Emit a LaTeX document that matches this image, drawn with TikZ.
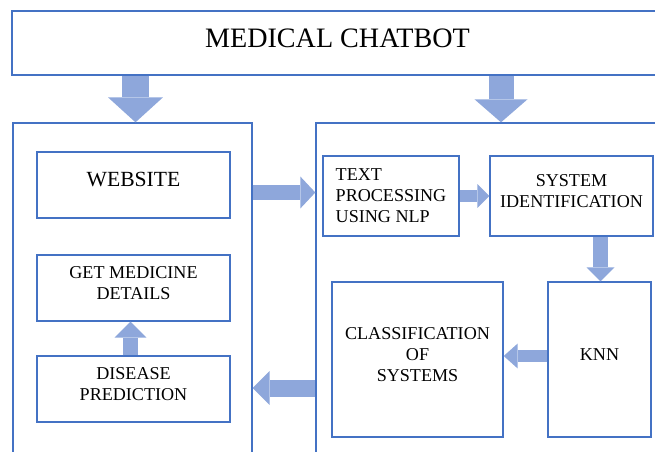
\documentclass[tikz,border=0pt]{standalone}
\usepackage{fontspec}
\setmainfont{Liberation Serif}
\usetikzlibrary{arrows.meta}

\definecolor{boxblue}{RGB}{68,114,196}
\definecolor{arrowblue}{RGB}{142,167,219}

\begin{document}
\begin{tikzpicture}[x=0.02cm, y=-0.02cm,
	box/.style={draw=boxblue, line width=0.8pt, inner sep=0pt, align=center, text depth=0.2cm,
		font=\fontsize{10.3}{12}\selectfont},
	blockarrow/.style n args={3}{draw=arrowblue, line width=#1,
		-{Triangle[width=#2, length=#3, line width=0pt]}}]

	\useasboundingbox (0,0) rectangle (655,452);

	%title
	\node[box, minimum width=13.02cm, minimum height=1.28cm, font=\fontsize{16}{19}\selectfont] (title) at (337.5,43) {MEDICAL CHATBOT};

	%panels
	\node[box, minimum width=4.78cm, minimum height=7.14cm] (leftpanel) at (132.5,301.5) {};
	\node[box, minimum width=7.28cm, minimum height=7.14cm] (rightpanel) at (498,301.5) {};

	%left column
	\node[box, minimum width=3.86cm, minimum height=1.32cm, text depth=0.24cm, font=\fontsize{12.3}{14}\selectfont] (website) at (133.5,185) {WEBSITE};
	\node[box, minimum width=3.86cm, minimum height=1.32cm] (medicine) at (133.5,288) {GET MEDICINE\\DETAILS};
	\node[box, minimum width=3.86cm, minimum height=1.32cm] (disease) at (133.5,389) {DISEASE\\PREDICTION};

	%right column
	\node[box, align=left, minimum width=2.72cm, minimum height=1.6cm, text depth=0.02cm] (nlp) at (391,196) {TEXT\\PROCESSING\\USING NLP};
	\node[box, minimum width=3.26cm, minimum height=1.6cm] (sysid) at (571.5,196) {SYSTEM\\IDENTIFICATION};
	\node[box, minimum width=2.06cm, minimum height=3.1cm] (knn) at (599.5,359.5) {KNN};
	\node[box, minimum width=3.42cm, minimum height=3.1cm] (classif) at (417.5,359.5) {CLASSIFICATION\\OF\\SYSTEMS};

	%arrow positions
	\coordinate (leftdown) at (135.5,0);
	\coordinate (rightdown) at (501,0);
	\coordinate (toright) at (0,192.5);
	\coordinate (toleft) at (0,388);
	\coordinate (upmed) at (130.5,0);
	\coordinate (downknn) at (600.5,0);
	\coordinate (toclass) at (0,356);

	%arrows
	\draw[blockarrow={0.54cm}{1.1cm}{0.5cm}] (title.south -| leftdown) -- (leftpanel.north -| leftdown);
	\draw[blockarrow={0.5cm}{1.06cm}{0.46cm}] (title.south -| rightdown) -- (rightpanel.north -| rightdown);
	\draw[blockarrow={0.3cm}{0.64cm}{0.3cm}] (leftpanel.east |- toright) -- (rightpanel.west |- toright);
	\draw[blockarrow={0.34cm}{0.68cm}{0.34cm}] (rightpanel.west |- toleft) -- (leftpanel.east |- toleft);
	\draw[blockarrow={0.3cm}{0.64cm}{0.32cm}] (disease.north -| upmed) -- (medicine.south -| upmed);
	\draw[blockarrow={0.24cm}{0.48cm}{0.24cm}] (nlp) -- (sysid);
	\draw[blockarrow={0.3cm}{0.56cm}{0.28cm}] (sysid.south -| downknn) -- (knn.north -| downknn);
	\draw[blockarrow={0.24cm}{0.5cm}{0.28cm}] (knn.west |- toclass) -- (classif.east |- toclass);

\end{tikzpicture}
\end{document}
